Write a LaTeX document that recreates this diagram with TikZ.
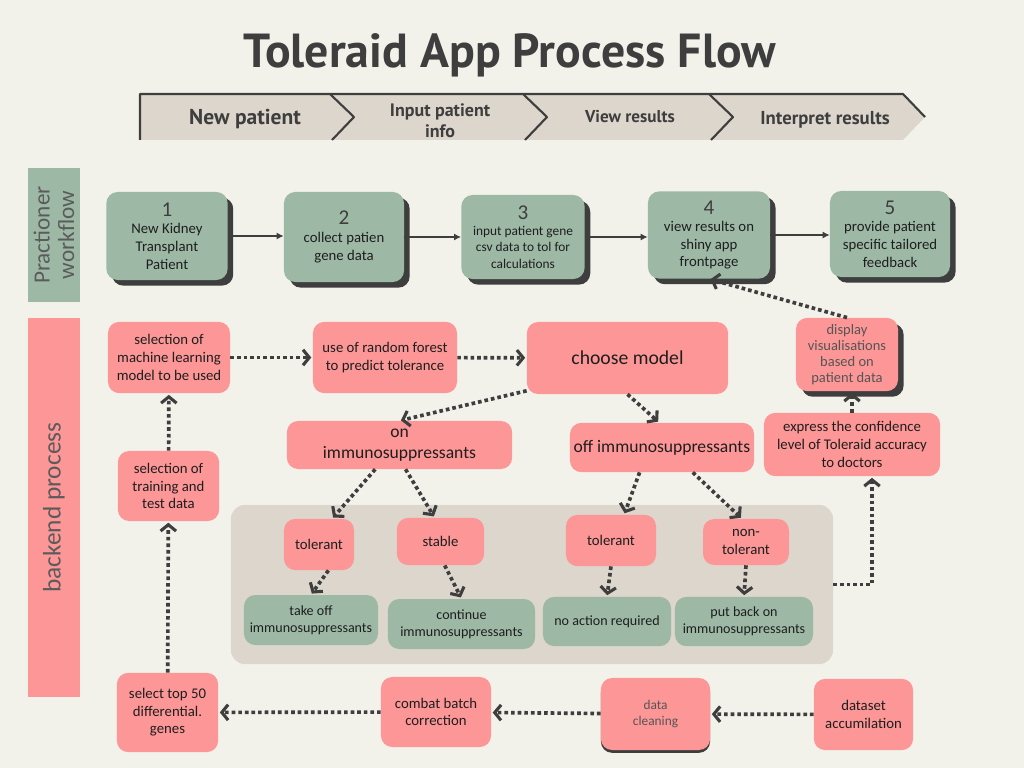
\documentclass[tikz,border=0pt]{standalone}
\usepackage{fontspec}
\setmainfont{Carlito}
\newfontfamily\headfont{PT Sans}
\usetikzlibrary{arrows.meta,calc,shadows}
\definecolor{ColBack}{RGB}{242,242,235}
\definecolor{ColGreen}{RGB}{157,185,165}
\definecolor{ColPink}{RGB}{253,150,150}
\definecolor{ColSand}{RGB}{221,214,204}
\definecolor{ColDark}{RGB}{62,62,62}
\definecolor{ColText}{RGB}{30,30,30}
\definecolor{ColSoft}{RGB}{85,85,85}

\begin{document}
\begin{tikzpicture}[
  x=0.025cm, y=-0.025cm,
  line cap=butt,
  line join=round,
  every node/.style={font=\fontsize{10.5}{12.5}\selectfont, text=ColText, align=center, inner sep=1pt},
  greenbox/.style={fill=ColGreen, rounded corners=8pt},
  pinkbox/.style={fill=ColPink, rounded corners=8pt},
  shadowed/.style={drop shadow={shadow xshift=4pt, shadow yshift=-4pt, fill=ColDark, opacity=1}},
  solidarrow/.style={line width=1.1pt, ColDark, -{Latex[length=5pt,width=5pt]}},
  dotarrow/.style={line width=2.6pt, ColDark, dash pattern=on 2.6pt off 2.1pt,
    -{Straight Barb[length=4.5pt,width=11pt,line width=2.2pt]}, shorten >=1pt},
  chevlabel/.style={font=\headfont\bfseries\fontsize{13.3}{14}\selectfont, text=ColDark}
]
  % Canvas
  \useasboundingbox[fill=ColBack] (0,0) rectangle (1024,768);

  % Title
  \node[font=\headfont\bfseries\fontsize{34}{36}\selectfont, text=ColDark] (title) at (510,55) {Toleraid App Process Flow};

  % Stage band
  \fill[ColSand] (140,94) -- (903,94) -- (925,117) -- (903,140) -- (140,140) -- cycle;
  \draw[ColDark, line width=1.5pt] (140,140) -- (140,94) -- (903,94) -- (925,117);
  \foreach \xa in {330,523,709}{
    \draw[ColDark, line width=1.5pt] (\xa,94) -- (\xa+24,117) -- (\xa+2,140);
  }
  \node[chevlabel, font=\headfont\bfseries\fontsize{15.3}{16}\selectfont] (stgNew) at (245,119) {New patient};
  \node[chevlabel, font=\headfont\bfseries\fontsize{12.8}{15}\selectfont] (stgInput) at (440,121) {Input patient\\info};
  \node[chevlabel, font=\headfont\bfseries\fontsize{12.2}{14}\selectfont] (stgView) at (630,117) {View results};
  \node[chevlabel] (stgInterp) at (825,120) {Interpret results};

  % Side bands
  \node[fill=ColGreen, rotate=90, minimum width=3.35cm, minimum height=1.3cm,
    font=\fontsize{16.5}{17.5}\selectfont, text=ColDark!85] (sideWork) at (54,235) {Practioner\\workflow};
  \node[fill=ColPink, rotate=90, minimum width=9.48cm, minimum height=1.3cm,
    font=\fontsize{18}{19}\selectfont, text=ColDark!85] (sideBack) at (54,507.5) {backend process};

  % Practitioner workflow
  \node[greenbox, shadowed, minimum width=3.03cm, minimum height=2.2cm] (w1) at (167,236)
    {{\fontsize{15}{15}\selectfont\color{ColDark}1}\\New Kidney\\Transplant\\Patient};
  \node[greenbox, shadowed, minimum width=3.0cm, minimum height=2.25cm] (w2) at (344,237)
    {{\fontsize{15}{15}\selectfont\color{ColDark}2}\\collect patien\\gene data};
  \node[greenbox, shadowed, minimum width=3.08cm, minimum height=2.1cm, font=\fontsize{9.5}{11.5}\selectfont] (w3) at (523,237)
    {{\fontsize{15}{15}\selectfont\color{ColDark}3}\\input patient gene\\csv data to tol for\\calculations};
  \node[greenbox, shadowed, minimum width=3.05cm, minimum height=2.18cm] (w4) at (709,235)
    {{\fontsize{15}{14}\selectfont\color{ColDark}4}\\view results on\\shiny app\\frontpage};
  \node[greenbox, shadowed, minimum width=3.0cm, minimum height=2.15cm] (w5) at (890,234)
    {{\fontsize{15}{14}\selectfont\color{ColDark}5}\\provide patient\\specific tailored\\feedback};

  \draw[solidarrow] (w1) -- (w2.west |- w1);
  \draw[solidarrow] (w2) -- (w3.west |- w2);
  \draw[solidarrow] (w3) -- (w4.west |- w3);
  \draw[solidarrow] (w4) -- (w5.west |- w4);

  % Outcome area
  \node[fill=ColSand, rounded corners=10pt, minimum width=15.05cm, minimum height=3.98cm] (greyarea) at (532,584.5) {};

  % Backend process
  \node[pinkbox, minimum width=3.05cm, minimum height=1.78cm] (selml) at (169,357.5) {selection of\\machine learning\\model to be used};
  \node[pinkbox, minimum width=3.6cm, minimum height=1.78cm] (forest) at (385,357.5) {use of random forest\\to predict tolerance};
  \node[pinkbox, minimum width=5.03cm, minimum height=1.8cm, font=\fontsize{14}{16}\selectfont] (choose) at (627.5,358) {choose model};
  \node[pinkbox, shadowed, minimum width=2.55cm, minimum height=1.83cm, font=\fontsize{10.3}{11.3}\selectfont, text=ColSoft] (display) at (847,354.5) {display\\visualisations\\based on\\patient data};
  \node[pinkbox, minimum width=4.4cm, minimum height=1.58cm] (express) at (852,444.5) {express the confidence\\level of Toleraid accuracy\\to doctors};
  \node[pinkbox, minimum width=5.63cm, minimum height=1.2cm, font=\fontsize{12.5}{14.5}\selectfont] (onimm) at (399.5,445) {on\\immunosuppressants};
  \node[pinkbox, minimum width=4.6cm, minimum height=1.23cm, font=\fontsize{12.5}{14.5}\selectfont] (offimm) at (662,447.5) {off immunosuppressants};
  \node[pinkbox, minimum width=2.53cm, minimum height=1.75cm] (seltrain) at (168.5,486) {selection of\\training and\\test data};

  \node[pinkbox, minimum width=1.75cm, minimum height=1.28cm] (tolon) at (319,544.5) {tolerant};
  \node[pinkbox, minimum width=2.18cm, minimum height=1.18cm] (stable) at (440.5,541.5) {stable};
  \node[pinkbox, minimum width=2.25cm, minimum height=1.28cm] (toloff) at (611,540.5) {tolerant};
  \node[pinkbox, minimum width=2.15cm, minimum height=1.15cm] (nontol) at (746,542) {non-\\tolerant};

  \node[greenbox, minimum width=3.35cm, minimum height=1.25cm, font=\fontsize{10}{12}\selectfont] (takeoff) at (311,620) {take off\\immunosuppressants};
  \node[greenbox, minimum width=3.68cm, minimum height=1.25cm, font=\fontsize{10}{12}\selectfont] (contin) at (461.5,624) {continue\\immunosuppressants};
  \node[greenbox, minimum width=3.2cm, minimum height=1.23cm, font=\fontsize{10}{12}\selectfont] (noaction) at (607,621.5) {no action required};
  \node[greenbox, minimum width=3.45cm, minimum height=1.23cm, font=\fontsize{10}{12}\selectfont] (putback) at (744,621.5) {put back on\\immunosuppressants};

  \node[pinkbox, minimum width=2.53cm, minimum height=1.98cm] (topgenes) at (167.5,712.5) {select top 50\\differential.\\genes};
  \node[pinkbox, minimum width=2.75cm, minimum height=1.75cm] (combat) at (436,712) {combat batch\\correction};
  \node[pinkbox, drop shadow={shadow xshift=0pt, shadow yshift=-2pt, fill=ColDark, opacity=1},
    minimum width=2.73cm, minimum height=1.8cm, font=\fontsize{9.5}{12}\selectfont, text=ColSoft] (cleaning) at (655.5,714) {data\\cleaning};
  \node[pinkbox, minimum width=2.48cm, minimum height=1.78cm] (dataset) at (863.5,714.5) {dataset\\accumilation};

  % Dotted connectors
  \draw[dotarrow] (selml) -- (forest);
  \draw[dotarrow] (forest) -- (choose);
  \draw[dotarrow] (choose.198) -- (onimm.north);
  \draw[dotarrow] (choose.south) -- ([xshift=-2pt]offimm.north);
  \draw[dotarrow] (onimm.225) -- (tolon.63);
  \draw[dotarrow] (onimm.284) -- (stable.104);
  \draw[dotarrow] (offimm.228) -- (toloff.63);
  \draw[dotarrow] (offimm.321) -- (nontol.100);
  \draw[dotarrow] (tolon.290) -- (takeoff.north);
  \draw[dotarrow] (stable.280) -- (contin.north);
  \draw[dotarrow] (toloff.south) -- (noaction.north);
  \draw[dotarrow] (nontol.south) -- (putback.north);
  \draw[dotarrow] (greyarea.east) -| ($(express.south)+(20,0)$);
  \draw[dotarrow] (express.north) -- (express.north |- display.south);
  \draw[dotarrow] (display.north) -- (w4.south);
  \draw[dotarrow] (dataset) -- (cleaning);
  \draw[dotarrow] (cleaning) -- (combat);
  \draw[dotarrow] (combat) -- (topgenes);
  \draw[dotarrow] (topgenes) -- (seltrain);
  \draw[dotarrow] (seltrain) -- (selml);
\end{tikzpicture}
\end{document}
